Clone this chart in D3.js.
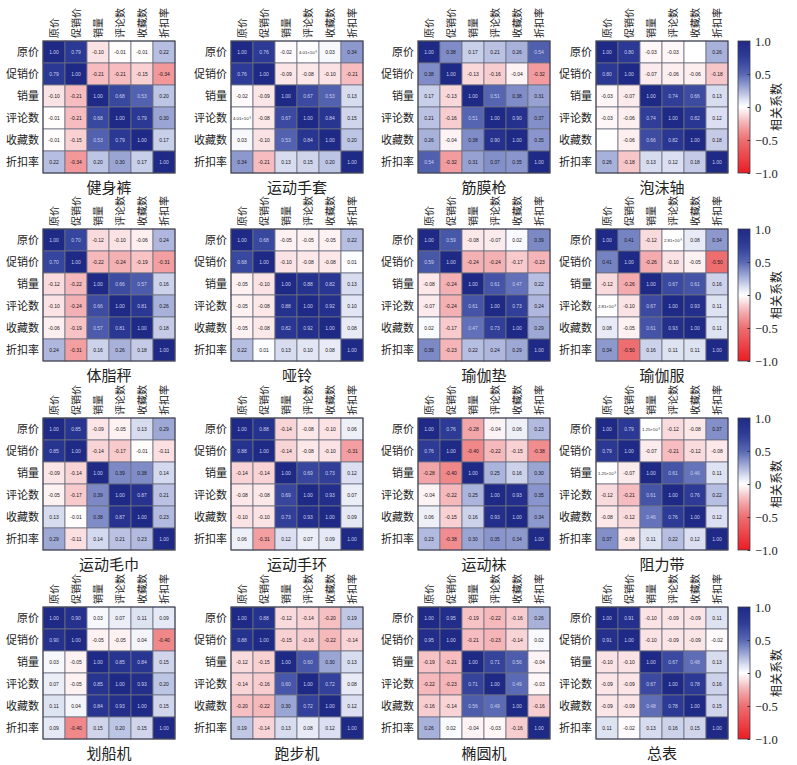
<!DOCTYPE html>
<html>
<head>
<meta charset="utf-8">
<script src="https://cdn.jsdelivr.net/npm/d3@7"></script>
<style>
  body { margin: 0; background: #fff; }
  svg { display: block; }
</style>
</head>
<body>
<svg id="chart" width="797" height="765"></svg>
<script>
// variables (row / column labels)
const vars = ['原价', '促销价', '销量', '评论数', '收藏数', '折扣率']

// panel titles
const products = ['健身裤', '运动手套', '筋膜枪', '泡沫轴',
                  '体脂秤', '哑铃', '瑜伽垫', '瑜伽服',
                  '运动毛巾', '运动手环', '运动袜', '阻力带',
                  '划船机', '跑步机', '椭圆机', '总表']

// correlation matrices (null = empty cell)
const jianshenku = [
  [1.00, 0.79, -0.10, -0.01, -0.01, 0.22],
  [0.79, 1.00, -0.21, -0.21, -0.15, -0.34],
  [-0.10, -0.21, 1.00, 0.68, 0.53, 0.20],
  [-0.01, -0.21, 0.68, 1.00, 0.79, 0.30],
  [-0.01, -0.15, 0.53, 0.79, 1.00, 0.17],
  [0.22, -0.34, 0.20, 0.30, 0.17, 1.00]]
const shoutao = [
  [1.00, 0.76, -0.02, 0.00401, 0.03, 0.34],
  [0.76, 1.00, -0.09, -0.08, -0.10, -0.21],
  [-0.02, -0.09, 1.00, 0.67, 0.53, 0.13],
  [0.00401, -0.08, 0.67, 1.00, 0.84, 0.15],
  [0.03, -0.10, 0.53, 0.84, 1.00, 0.20],
  [0.34, -0.21, 0.13, 0.15, 0.20, 1.00]]
const jinmoqiang = [
  [1.00, 0.38, 0.17, 0.21, 0.26, 0.54],
  [0.38, 1.00, -0.13, -0.16, -0.04, -0.32],
  [0.17, -0.13, 1.00, 0.51, 0.38, 0.31],
  [0.21, -0.16, 0.51, 1.00, 0.90, 0.37],
  [0.26, -0.04, 0.38, 0.90, 1.00, 0.35],
  [0.54, -0.32, 0.31, 0.37, 0.35, 1.00]]
const paomozhou = [
  [1.00, 0.80, -0.03, -0.03, null, 0.26],
  [0.80, 1.00, -0.07, -0.06, -0.06, -0.18],
  [-0.03, -0.07, 1.00, 0.74, 0.66, 0.13],
  [-0.03, -0.06, 0.74, 1.00, 0.82, 0.12],
  [null, -0.06, 0.66, 0.82, 1.00, 0.18],
  [0.26, -0.18, 0.13, 0.12, 0.18, 1.00]]
const tizhicheng = [
  [1.00, 0.70, -0.12, -0.10, -0.06, 0.24],
  [0.70, 1.00, -0.22, -0.24, -0.19, -0.31],
  [-0.12, -0.22, 1.00, 0.66, 0.57, 0.16],
  [-0.10, -0.24, 0.66, 1.00, 0.81, 0.26],
  [-0.06, -0.19, 0.57, 0.81, 1.00, 0.18],
  [0.24, -0.31, 0.16, 0.26, 0.18, 1.00]]
const yaling = [
  [1.00, 0.68, -0.05, -0.05, -0.05, 0.22],
  [0.68, 1.00, -0.10, -0.08, -0.08, 0.01],
  [-0.05, -0.10, 1.00, 0.88, 0.82, 0.13],
  [-0.05, -0.08, 0.88, 1.00, 0.92, 0.10],
  [-0.05, -0.08, 0.82, 0.92, 1.00, 0.08],
  [0.22, 0.01, 0.13, 0.10, 0.08, 1.00]]
const yujiadian = [
  [1.00, 0.59, -0.08, -0.07, 0.02, 0.39],
  [0.59, 1.00, -0.24, -0.24, -0.17, -0.23],
  [-0.08, -0.24, 1.00, 0.61, 0.47, 0.22],
  [-0.07, -0.24, 0.61, 1.00, 0.73, 0.24],
  [0.02, -0.17, 0.47, 0.73, 1.00, 0.29],
  [0.39, -0.23, 0.22, 0.24, 0.29, 1.00]]
const yujiafu = [
  [1.00, 0.41, -0.12, 0.00281, 0.08, 0.34],
  [0.41, 1.00, -0.26, -0.10, -0.05, -0.50],
  [-0.12, -0.26, 1.00, 0.67, 0.61, 0.16],
  [0.00281, -0.10, 0.67, 1.00, 0.93, 0.11],
  [0.08, -0.05, 0.61, 0.93, 1.00, 0.11],
  [0.34, -0.50, 0.16, 0.11, 0.11, 1.00]]
const maojin = [
  [1.00, 0.85, -0.09, -0.05, 0.13, 0.29],
  [0.85, 1.00, -0.14, -0.17, -0.01, -0.11],
  [-0.09, -0.14, 1.00, 0.39, 0.38, 0.14],
  [-0.05, -0.17, 0.39, 1.00, 0.87, 0.21],
  [0.13, -0.01, 0.38, 0.87, 1.00, 0.23],
  [0.29, -0.11, 0.14, 0.21, 0.23, 1.00]]
const shouhuan = [
  [1.00, 0.88, -0.14, -0.08, -0.10, 0.06],
  [0.88, 1.00, -0.14, -0.08, -0.10, -0.31],
  [-0.14, -0.14, 1.00, 0.69, 0.73, 0.12],
  [-0.08, -0.08, 0.69, 1.00, 0.93, 0.07],
  [-0.10, -0.10, 0.73, 0.93, 1.00, 0.09],
  [0.06, -0.31, 0.12, 0.07, 0.09, 1.00]]
const yundongwa = [
  [1.00, 0.76, -0.28, -0.04, 0.06, 0.23],
  [0.76, 1.00, -0.40, -0.22, -0.15, -0.38],
  [-0.28, -0.40, 1.00, 0.25, 0.16, 0.30],
  [-0.04, -0.22, 0.25, 1.00, 0.93, 0.35],
  [0.06, -0.15, 0.16, 0.93, 1.00, 0.34],
  [0.23, -0.38, 0.30, 0.35, 0.34, 1.00]]
const zulidai = [
  [1.00, 0.79, 0.00125, -0.12, -0.08, 0.37],
  [0.79, 1.00, -0.07, -0.21, -0.12, -0.08],
  [0.00125, -0.07, 1.00, 0.61, 0.46, 0.11],
  [-0.12, -0.21, 0.61, 1.00, 0.76, 0.22],
  [-0.08, -0.12, 0.46, 0.76, 1.00, 0.12],
  [0.37, -0.08, 0.11, 0.22, 0.12, 1.00]]
const huachuanji = [
  [1.00, 0.90, 0.03, 0.07, 0.11, 0.09],
  [0.90, 1.00, -0.05, -0.05, 0.04, -0.40],
  [0.03, -0.05, 1.00, 0.85, 0.84, 0.15],
  [0.07, -0.05, 0.85, 1.00, 0.93, 0.20],
  [0.11, 0.04, 0.84, 0.93, 1.00, 0.15],
  [0.09, -0.40, 0.15, 0.20, 0.15, 1.00]]
const paobuji = [
  [1.00, 0.88, -0.12, -0.14, -0.20, 0.19],
  [0.88, 1.00, -0.15, -0.16, -0.22, -0.14],
  [-0.12, -0.15, 1.00, 0.60, 0.30, 0.13],
  [-0.14, -0.16, 0.60, 1.00, 0.72, 0.08],
  [-0.20, -0.22, 0.30, 0.72, 1.00, 0.12],
  [0.19, -0.14, 0.13, 0.08, 0.12, 1.00]]
const tuoyuanji = [
  [1.00, 0.95, -0.19, -0.22, -0.16, 0.26],
  [0.95, 1.00, -0.21, -0.23, -0.14, 0.02],
  [-0.19, -0.21, 1.00, 0.71, 0.56, -0.04],
  [-0.22, -0.23, 0.71, 1.00, 0.49, -0.03],
  [-0.16, -0.14, 0.56, 0.49, 1.00, -0.16],
  [0.26, 0.02, -0.04, -0.03, -0.16, 1.00]]
const zongbiao = [
  [1.00, 0.91, -0.10, -0.09, -0.09, 0.11],
  [0.91, 1.00, -0.10, -0.09, -0.09, -0.02],
  [-0.10, -0.10, 1.00, 0.67, 0.48, 0.13],
  [-0.09, -0.09, 0.67, 1.00, 0.78, 0.16],
  [-0.09, -0.09, 0.48, 0.78, 1.00, 0.15],
  [0.11, -0.02, 0.13, 0.16, 0.15, 1.00]]

const matrices = [jianshenku, shoutao, jinmoqiang, paomozhou,
                  tizhicheng, yaling, yujiadian, yujiafu,
                  maojin, shouhuan, yundongwa, zulidai,
                  huachuanji, paobuji, tuoyuanji, zongbiao]

const colorTicks = [-1, -0.5, 0, 0.5, 1]

// layout
const panelLeft = [43, 231, 418, 596]
const panelTop = [41, 229, 418, 607]
const size = 132
const cbX = 738, cbW = 12

const color = d3.scaleLinear()
  .domain([-1, -0.5, -0.25, -0.1, 0, 0.1, 0.25, 0.5, 0.75, 1])
  .range(['#ec1c24', '#ee6e70', '#f4aeb1', '#fbe2e4', '#ffffff',
          '#e2e6f4', '#abb4dc', '#5767b3', '#2e3c97', '#1f2a86'])
  .interpolate(d3.interpolateRgb)

const x = d3.scaleBand().domain(vars).range([0, size])
const y = d3.scaleBand().domain(vars).range([0, size])

const svg = d3.select('#chart')
const cjk = '"Noto Sans CJK SC", sans-serif'
const supers = {'-': '⁻', '0': '⁰', '1': '¹', '2': '²', '3': '³', '4': '⁴',
                '5': '⁵', '6': '⁶', '7': '⁷', '8': '⁸', '9': '⁹'}

function fmt(v) {
  if (v === null) return ''
  if (v !== 0 && Math.abs(v) < 0.01) {
    let e = Math.floor(Math.log10(Math.abs(v)))
    let m = v / Math.pow(10, e)
    let es = String(e).split('').map(c => supers[c]).join('')
    return m.toFixed(2) + '×10' + es
  }
  return v.toFixed(2)
}

for (let p = 0; p < products.length; p++) {
  let col = p % 4, row = Math.floor(p / 4)
  let g = svg.append('g')
    .attr('transform', `translate(${panelLeft[col]},${panelTop[row]})`)
  let m = matrices[p]
  let cells = []
  for (let i = 0; i < vars.length; i++) {
    for (let j = 0; j < vars.length; j++) {
      cells.push({r: vars[i], c: vars[j], v: m[i][j]})
    }
  }

  g.selectAll('rect.cell')
    .data(cells)
    .join('rect')
    .attr('class', 'cell')
    .attr('x', d => x(d.c))
    .attr('y', d => y(d.r))
    .attr('width', x.bandwidth())
    .attr('height', y.bandwidth())
    .style('fill', d => d.v === null ? '#fff' : color(d.v))
    .style('stroke', '#6b6f80')
    .style('stroke-width', 0.8)

  g.selectAll('text.val')
    .data(cells)
    .join('text')
    .attr('class', 'val')
    .attr('x', d => x(d.c) + x.bandwidth() / 2)
    .attr('y', d => y(d.r) + y.bandwidth() / 2 + 1.7)
    .attr('text-anchor', 'middle')
    .style('font-family', 'Liberation Sans, Arial, sans-serif')
    .style('font-size', d => (d.v !== null && d.v !== 0 && Math.abs(d.v) < 0.01) ? '4.3px' : '5px')
    .style('fill', d => d.v !== null && d.v > 0.44 ? '#c9cee9' : '#1a1a1a')
    .text(d => fmt(d.v))

  g.append('rect')
    .attr('width', size).attr('height', size)
    .style('fill', 'none').style('stroke', '#3a3d4a').style('stroke-width', 1)

  // row labels
  let yAxis = g.append('g').call(d3.axisLeft(y).tickSize(0).tickPadding(4))
  yAxis.select('.domain').remove()
  yAxis.selectAll('text')
    .style('font-family', cjk).style('font-size', '11px').style('fill', '#222')

  // column labels
  let xAxis = g.append('g').call(d3.axisTop(x).tickSize(0).tickPadding(0))
  xAxis.select('.domain').remove()
  xAxis.selectAll('text')
    .attr('transform', 'rotate(-90)')
    .attr('x', 3).attr('y', 0)
    .attr('dy', '0.35em')
    .style('text-anchor', 'start')
    .style('font-family', cjk).style('font-size', '10px').style('fill', '#222')

  g.append('text')
    .attr('x', size / 2)
    .attr('y', size + 20)
    .attr('text-anchor', 'middle')
    .style('font-family', cjk).style('font-size', '15px').style('fill', '#222')
    .text(products[p])
}

// colour bars, one per row
const defs = svg.append('defs')
const grad = defs.append('linearGradient')
  .attr('id', 'cbgrad').attr('x1', 0).attr('x2', 0).attr('y1', 1).attr('y2', 0)
d3.range(0, 1.0001, 0.05).forEach(t => {
  grad.append('stop').attr('offset', t).attr('stop-color', color(-1 + 2 * t))
})

const cbScale = d3.scaleLinear().domain([-1, 1]).range([size, 0])

for (let row = 0; row < 4; row++) {
  let cb = svg.append('g').attr('transform', `translate(${cbX},${panelTop[row]})`)
  cb.append('rect')
    .attr('width', cbW).attr('height', size)
    .style('fill', 'url(#cbgrad)')
    .style('stroke', '#3a3d4a').style('stroke-width', 0.8)
  let ax = cb.append('g')
    .attr('transform', `translate(${cbW},0)`)
    .call(d3.axisRight(cbScale)
      .tickValues(colorTicks)
      .tickSizeInner(-2.5).tickSizeOuter(0)
      .tickPadding(5)
      .tickFormat(d => d === 0 ? '0' : d3.format('.1f')(d).replace('-', '−')))
  ax.select('.domain').remove()
  ax.selectAll('line').style('stroke', '#333')
  ax.selectAll('text')
    .style('font-family', '"Liberation Serif", "Times New Roman", serif')
    .style('font-size', '12.5px').style('fill', '#222')
  cb.append('text')
    .attr('transform', `translate(${cbW + 27},${size / 2}) rotate(-90)`)
    .attr('text-anchor', 'middle')
    .attr('dy', '0.35em')
    .style('font-family', cjk).style('font-size', '12px').style('fill', '#222')
    .text('相关系数')
}
</script>
</body>
</html>
